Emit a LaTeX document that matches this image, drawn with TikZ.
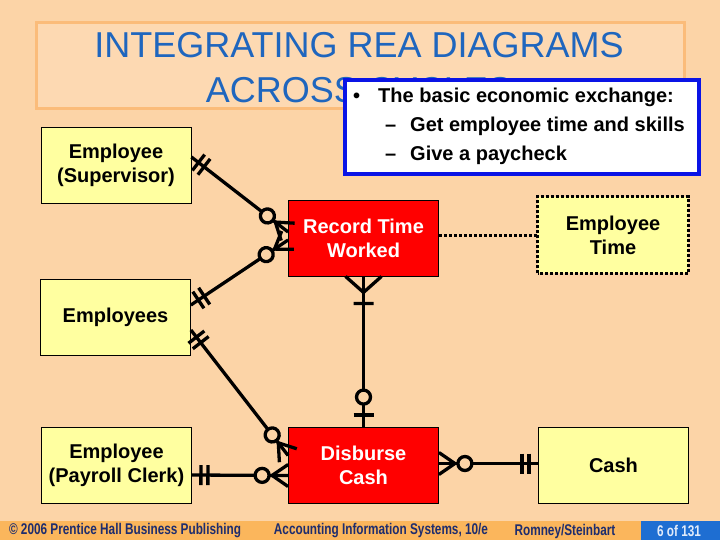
\documentclass[tikz,border=0pt]{standalone}
\usepackage{fontspec}
\setmainfont{Liberation Sans}
\newfontfamily\footfont[FakeStretch=0.76]{Liberation Sans}
\usetikzlibrary{calc,decorations.markings}

\definecolor{slidebg}{RGB}{252,212,167}
\definecolor{titlefill}{RGB}{253,217,178}
\definecolor{titleedge}{RGB}{251,188,122}
\definecolor{titleblue}{RGB}{31,102,190}
\definecolor{entyellow}{RGB}{255,255,160}
\definecolor{eventred}{RGB}{255,0,0}
\definecolor{noteblue}{RGB}{10,20,230}
\definecolor{footbar}{RGB}{251,182,92}
\definecolor{footblue}{RGB}{30,110,210}
\definecolor{foottext}{RGB}{30,45,110}

\tikzset{
  entity/.style={draw=black, line width=0.8pt, fill=entyellow, minimum width=150pt,
    minimum height=76pt, align=center, font=\fontsize{20}{24}\selectfont\bfseries},
  event/.style={entity, fill=eventred, text=white},
  titletext/.style={font=\fontsize{36}{40}\selectfont, text=titleblue, inner sep=0pt},
  notetext/.style={anchor=base west, inner sep=0pt, font=\fontsize{20}{24}\selectfont\bfseries},
  foottxt/.style={font=\footfont\fontsize{15.5}{17}\selectfont\bfseries, text=foottext, inner sep=0pt},
  link/.style={line width=3.3pt, black},
  dotline/.style={line width=3pt, dash pattern=on 3pt off 2pt},
  two bars start/.style={postaction={decorate, decoration={markings,
    mark=at position 9pt with {\draw[line width=3.3pt] (0pt,-10pt) -- (0pt,10pt) (7pt,-10pt) -- (7pt,10pt);}}}},
  zero many end/.style={postaction={decorate, decoration={markings,
    mark=at position -26pt with {\draw[line width=3.3pt, fill=slidebg] (0pt,0pt) circle (7pt);
      \draw[line width=3.3pt] (10pt,0pt) -- (26pt,11pt) (10pt,0pt) -- (26pt,-11pt);}}}},
  zero one end/.style={postaction={decorate, decoration={markings,
    mark=at position -30pt with {\draw[line width=3.3pt, fill=slidebg] (0pt,0pt) circle (7pt);
      \draw[line width=3.3pt] (18pt,-10pt) -- (18pt,10pt);}}}},
  one many start/.style={postaction={decorate, decoration={markings,
    mark=at position 16pt with {\draw[line width=3.3pt] (0pt,0pt) -- (-16pt,18pt) (0pt,0pt) -- (-16pt,-18pt)
      (11pt,-10pt) -- (11pt,10pt);}}}}
}

\begin{document}
\begin{tikzpicture}[x=1pt, y=-1pt]
\useasboundingbox (0,0) rectangle (720,540);
\fill[slidebg] (0,0) rectangle (720,540);

\node (titlebox) [draw=titleedge, line width=3pt, fill=titlefill, minimum width=648pt, minimum height=86pt] at (360,66) {};
\node (title1) [titletext] at (359,45) {INTEGRATING REA DIAGRAMS};
\node (title2) [titletext] at (359,90) {ACROSS CYCLES};

\node (sup)   [entity] at (116,165)   {Employee\\(Supervisor)};
\node (emps)  [entity] at (115.5,317) {Employees};
\node (clerk) [entity] at (116.5,465) {Employee\\(Payroll Clerk)};
\node (rtw)   [event]  at (363.5,238) {Record Time\\Worked};
\node (dis)   [event]  at (363.5,465.5) {Disburse\\Cash};
\node (etime) [entity, draw=none] at (613,235) {Employee\\Time};
\draw[dotline] (etime.south west) rectangle (etime.north east);
\node (cash)  [entity] at (613.5,465.5) {Cash};

\draw[link, two bars start, zero many end] ([yshift=8pt]sup.east) -- ([yshift=6pt]rtw.west);
\draw[link, two bars start, zero many end] ([yshift=12pt]emps.east) -- ([yshift=-2pt]rtw.west);
\draw[link, two bars start, zero many end] ([yshift=-13pt]emps.east) -- ([yshift=10pt]dis.west);
\draw[link, two bars start, zero many end] ([yshift=-10pt]clerk.east) -- ([yshift=-10pt]dis.west);
\draw[link, two bars start, zero many end] ([yshift=2pt]cash.west) -- ([yshift=2pt]dis.east);
\draw[link, one many start, zero one end] (rtw.south) -- (dis.north);
\draw[dotline] (rtw.east |- etime.west) -- (etime.west);

\node (note) [draw=noteblue, line width=4pt, fill=white, minimum width=354pt, minimum height=94pt] at (522,127) {};
\node (bul)  [notetext] at (353,103) {•};
\node (ln1)  [notetext] at (378,103) {The basic economic exchange:};
\node (d2)   [notetext] at (385,132) {–};
\node (ln2)  [notetext] at (410,132) {Get employee time and skills};
\node (d3)   [notetext] at (385,161) {–};
\node (ln3)  [notetext] at (410,161) {Give a paycheck};

\fill[footbar] (0,521) rectangle (641,540);
\fill[footblue] (641,521) rectangle (720,540);
\node (f1) [foottxt] at (125,531) {© 2006 Prentice Hall Business Publishing};
\node (f2) [foottxt] at (381,531) {Accounting Information Systems, 10/e};
\node (f3) [foottxt] at (565,531) {Romney/Steinbart};
\node (f4) [foottxt, text={rgb,255:red,225;green,235;blue,250}] at (679,531) {6 of 131};
\end{tikzpicture}
\end{document}
